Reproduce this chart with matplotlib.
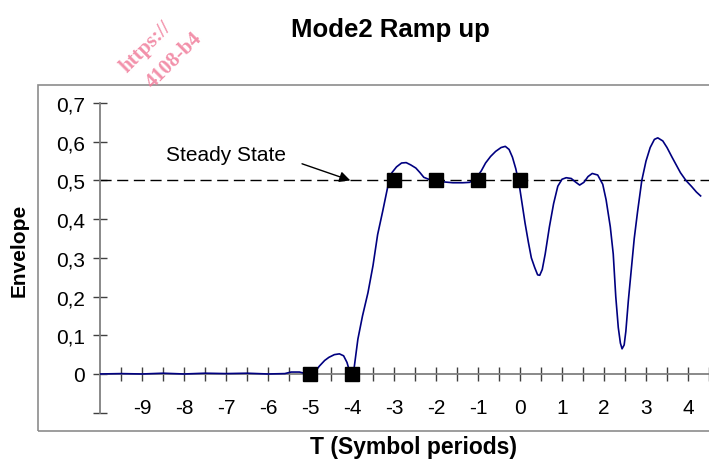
import matplotlib
matplotlib.use("Agg")
import matplotlib.pyplot as plt
from matplotlib.patches import Rectangle

# ---- data ----
t = [-10.0, -9.5, -9.0, -8.5, -8.0, -7.5, -7.0, -6.5, -6.0, -5.6, -5.45, -5.25,
     -5.1, -4.95, -4.85, -4.78, -4.65, -4.55, -4.42, -4.3, -4.2, -4.12, -4.06,
     -4.0, -3.95, -3.86, -3.75, -3.62, -3.5, -3.39, -3.27, -3.15, -3.05, -2.94,
     -2.82, -2.71, -2.6, -2.48, -2.38, -2.29, -2.15, -2.0, -1.8, -1.6, -1.36,
     -1.2, -1.05, -0.92, -0.82, -0.7, -0.58, -0.45, -0.35, -0.26, -0.18, -0.1,
     -0.02, 0.05, 0.12, 0.2, 0.27, 0.35, 0.42, 0.47, 0.53, 0.6, 0.7, 0.8, 0.9,
     1.0, 1.1, 1.22, 1.32, 1.42, 1.52, 1.62, 1.72, 1.85, 1.97, 2.05, 2.15, 2.22,
     2.28, 2.34, 2.39, 2.43, 2.48, 2.52, 2.58, 2.65, 2.72, 2.8, 2.9, 3.0, 3.1,
     3.2, 3.28, 3.4, 3.5, 3.62, 3.72, 3.82, 3.95, 4.08, 4.2, 4.3]
envelope = [0.0, 0.001, 0.0, 0.002, 0.0, 0.002, 0.001, 0.002, 0.0, 0.001, 0.005,
            0.005, 0.001, 0.002, 0.01, 0.02, 0.035, 0.043, 0.05, 0.052, 0.047,
            0.03, 0.008, 0.0, 0.015, 0.09, 0.15, 0.21, 0.28, 0.36, 0.42, 0.483,
            0.52, 0.535, 0.545, 0.546, 0.54, 0.532, 0.52, 0.508, 0.502, 0.499,
            0.496, 0.494, 0.494, 0.495, 0.505, 0.525, 0.545, 0.562, 0.575, 0.585,
            0.588, 0.58, 0.56, 0.53, 0.49, 0.44, 0.39, 0.34, 0.3, 0.275, 0.256,
            0.255, 0.27, 0.31, 0.38, 0.44, 0.485, 0.503, 0.507, 0.505, 0.496,
            0.488, 0.495, 0.51, 0.518, 0.514, 0.49, 0.45, 0.38, 0.31, 0.2, 0.12,
            0.08, 0.065, 0.075, 0.11, 0.19, 0.27, 0.35, 0.42, 0.5, 0.55, 0.585,
            0.606, 0.61, 0.602, 0.585, 0.56, 0.54, 0.52, 0.5, 0.485, 0.47, 0.46]
marker_t = [-5, -4, -3, -2, -1, 0]
marker_env = [0.0, 0.0, 0.5, 0.5, 0.5, 0.5]
steady_level = 0.5
x_major = [-9, -8, -7, -6, -5, -4, -3, -2, -1, 0, 1, 2, 3, 4]
x_labels = ["-9", "-8", "-7", "-6", "-5", "-4", "-3", "-2", "-1", "0", "1", "2", "3", "4"]
y_ticks = [-0.1, 0.0, 0.1, 0.2, 0.3, 0.4, 0.5, 0.6, 0.7]
y_labels = ["", "0", "0,1", "0,2", "0,3", "0,4", "0,5", "0,6", "0,7"]

plt.rcParams['font.family'] = ['Liberation Sans', 'DejaVu Sans']

W, H = 709, 464
fig = plt.figure(figsize=(W / 100, H / 100), dpi=100)
fig.patch.set_facecolor('white')

# chart border
fig.patches.append(Rectangle((38 / W, 1 - 432 / H), 1.0, (432 - 86) / H,
                             transform=fig.transFigure, fill=False,
                             ec='#8c8c8c', lw=1.2, zorder=0))

ax = fig.add_axes([100 / W, 1 - 413.7 / H, (W - 100) / W, (413.7 - 104) / H])
ax.set_xlim(-10, 4.1)
ax.set_ylim(-0.1, 0.7)
ax.set_facecolor('none')

for s in ['top', 'right']:
    ax.spines[s].set_visible(False)
ax.spines['left'].set_color('#808080')
ax.spines['left'].set_linewidth(1.3)
ax.spines['bottom'].set_position(('data', 0))
ax.spines['bottom'].set_color('#808080')
ax.spines['bottom'].set_linewidth(1.3)

ax.set_xticks(x_major)
ax.set_xticklabels(x_labels)
ax.set_xticks([v + 0.5 for v in [-10] + x_major], minor=True)
ax.set_yticks(y_ticks)
ax.set_yticklabels(y_labels)
ax.tick_params(axis='x', which='both', direction='inout', length=10, width=1,
               color='#404040', labelsize=15, pad=12)
ax.tick_params(axis='y', which='both', direction='inout', length=10, width=1,
               color='#404040', labelsize=15, pad=6)

ax.axhline(steady_level, color='black', lw=1.0, dashes=(8, 4), zorder=2)
ax.plot(t, envelope, color='#000080', lw=1.2, zorder=3, clip_on=True)
ax.plot(marker_t, marker_env, ls='none', marker='s', ms=10.5, color='black',
        zorder=4, clip_on=False)

ax.text(-7.0, 0.568, 'Steady State', ha='center', va='center', fontsize=15)
ax.annotate('', xy=(-4.04, 0.5), xytext=(-5.19, 0.543),
            arrowprops=dict(arrowstyle='-|>', color='black', lw=1.0,
                            mutation_scale=16, shrinkA=0, shrinkB=0))

fig.text(390 / W, 1 - 30 / H, 'Mode2 Ramp up', ha='center', va='center',
         fontsize=18.5, fontweight='bold')
fig.text(414 / W, 1 - 448 / H, 'T (Symbol periods)', ha='center', va='center',
         fontsize=16.5, fontweight='bold')
fig.text(19 / W, 1 - 250 / H, 'Envelope', ha='center', va='center',
         rotation=90, fontsize=15, fontweight='bold')

# watermark fragments
fig.text(116 / W, 1 - 72 / H, 'https://', rotation=45, ha='left', va='baseline',
         fontsize=15, fontweight='bold', family='Liberation Serif',
         color='#f07d9b', alpha=0.85)
fig.text(142 / W, 1 - 88 / H, '4108-b4', rotation=45, ha='left', va='baseline',
         fontsize=15, fontweight='bold', family='Liberation Serif',
         color='#f07d9b', alpha=0.85)

fig.savefig('out.png', dpi=100)
